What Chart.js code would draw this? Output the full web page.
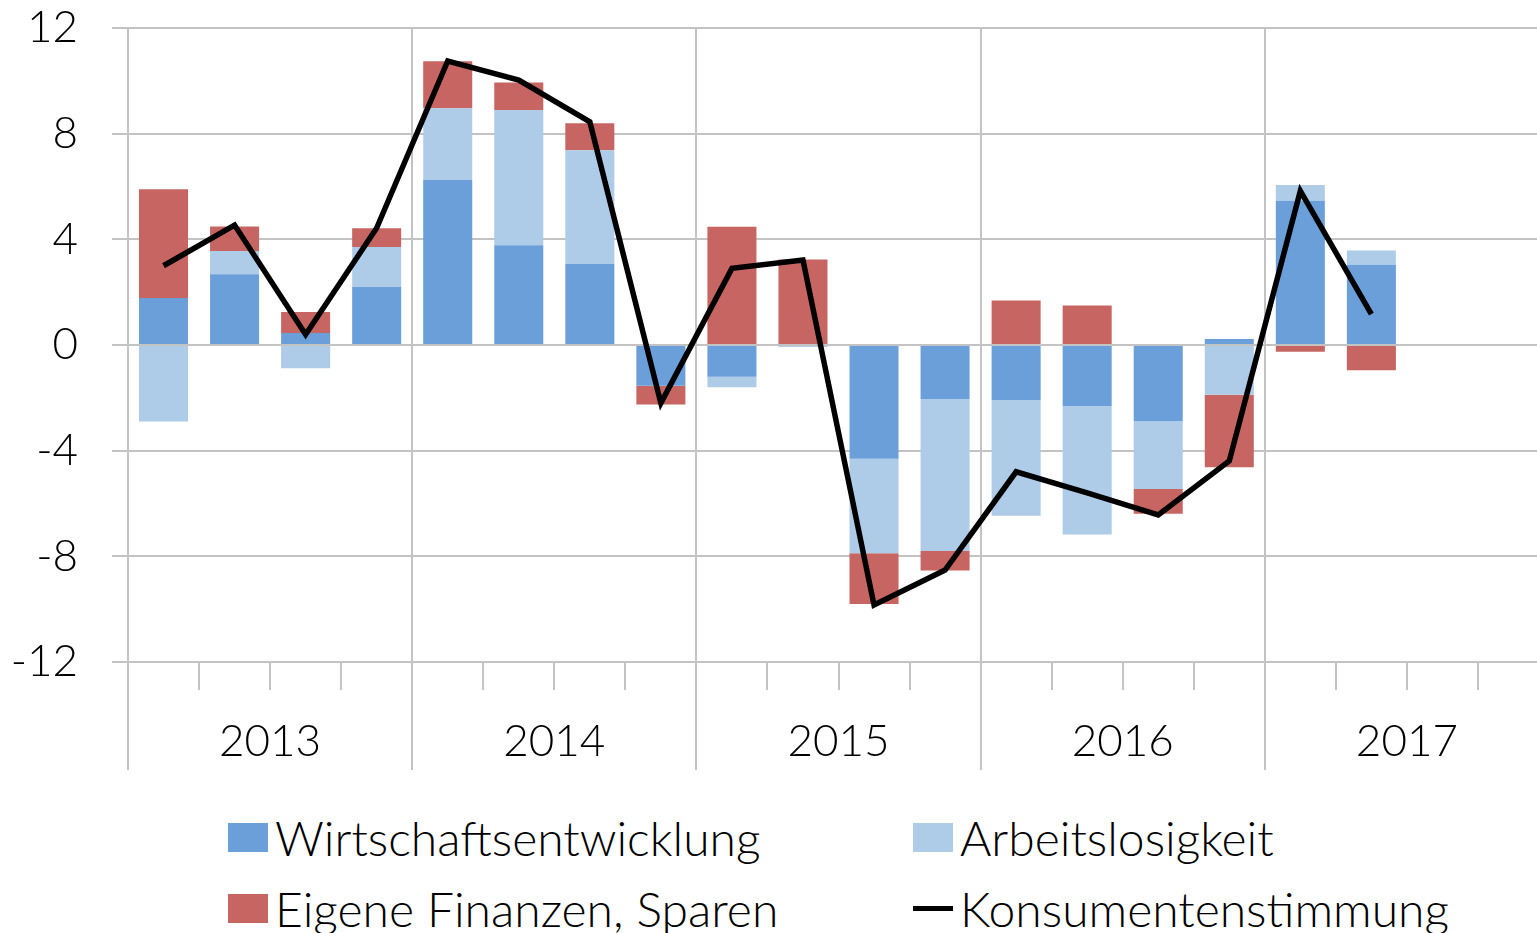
<!DOCTYPE html>
<html>
<head>
<meta charset="utf-8">
<title>Konsumentenstimmung</title>
<script src="https://cdn.jsdelivr.net/npm/chart.js"></script>
<style>
  html, body { margin: 0; padding: 0; background: #fff; overflow: hidden; width: 1537px; height: 933px; }
  #wrap { position: absolute; left: 0; top: 0; width: 1549px; height: 780px; }
  .item { position: absolute; display: flex; align-items: center; height: 60px;
          font: 300 48px Lato, "Open Sans", sans-serif; color: #000; white-space: nowrap; }
  .box { width: 40px; height: 29px; margin-right: 7px; }
  .line { width: 40px; height: 5px; background: #000; margin-right: 7px; }
</style>
</head>
<body>
<div id="wrap"><canvas id="chart"></canvas></div>
<div id="legend"></div>
<script>
// quarters 2013 Q1 .. 2017 Q4, data up to 2017 Q2
const quarters = [
  '2013 Q1', '2013 Q2', '2013 Q3', '2013 Q4',
  '2014 Q1', '2014 Q2', '2014 Q3', '2014 Q4',
  '2015 Q1', '2015 Q2', '2015 Q3', '2015 Q4',
  '2016 Q1', '2016 Q2', '2016 Q3', '2016 Q4',
  '2017 Q1', '2017 Q2', '2017 Q3', '2017 Q4'
];
const years = ['2013', '2014', '2015', '2016', '2017'];

const wirtschaft = [1.78, 2.68, 0.45, 2.2, 6.25, 3.78, 3.07, -1.54, -1.2, 0, -4.31, -2.04, -2.08, -2.31, -2.89, 0.23, 5.46, 3.04, null, null];
const arbeit     = [-2.9, 0.88, -0.88, 1.51, 2.71, 5.12, 4.3, 0, -0.4, -0.08, -3.57, -5.76, -4.38, -4.86, -2.56, -1.88, 0.6, 0.54, null, null];
const finanzen   = [4.12, 0.93, 0.8, 0.71, 1.78, 1.04, 1.02, -0.71, 4.48, 3.24, -1.92, -0.74, 1.68, 1.5, -0.94, -2.75, -0.26, -0.96, null, null];
const stimmung   = [3.0, 4.54, 0.4, 4.43, 10.75, 10.03, 8.45, -2.2, 2.9, 3.22, -9.84, -8.52, -4.8, -5.6, -6.43, -4.39, 5.83, 1.17, null, null];

const yMin = -12, yMax = 12, yStep = 4;

const COLORS = { wirtschaft: '#6a9fda', arbeit: '#aecbe8', finanzen: '#c66562', line: '#000000' };
const GRID = '#c3c3c3';
const FONT = { family: 'Lato, "Open Sans", sans-serif', size: 44, weight: 300 };

const barOpts = { barPercentage: 0.69, categoryPercentage: 1, order: 1, borderWidth: 0 };

new Chart(document.getElementById('chart'), {
  type: 'bar',
  data: {
    labels: quarters,
    datasets: [
      { label: 'Wirtschaftsentwicklung', data: wirtschaft, backgroundColor: COLORS.wirtschaft, ...barOpts },
      { label: 'Arbeitslosigkeit', data: arbeit, backgroundColor: COLORS.arbeit, ...barOpts },
      { label: 'Eigene Finanzen, Sparen', data: finanzen, backgroundColor: COLORS.finanzen, ...barOpts },
      { type: 'line', label: 'Konsumentenstimmung', data: stimmung, borderColor: COLORS.line,
        borderWidth: 5.5, pointRadius: 0, tension: 0, fill: false, order: 0, stack: 'line' }
    ]
  },
  options: {
    responsive: true,
    maintainAspectRatio: false,
    animation: false,
    layout: { padding: { top: 28, left: 0, right: 0, bottom: 10 } },
    plugins: { legend: { display: false }, tooltip: { enabled: false } },
    scales: {
      x: {
        stacked: true,
        grid: { offset: true, drawOnChartArea: false, drawTicks: true, tickLength: 28, color: GRID, lineWidth: 2 },
        border: { display: false },
        ticks: { display: false },
        afterFit(scale) { scale.height = 28; }
      },
      x2: {
        type: 'category',
        labels: years,
        position: 'bottom',
        offset: true,
        grid: { offset: true, drawOnChartArea: true, drawTicks: true, tickLength: 80, color: GRID, lineWidth: 2 },
        border: { display: false },
        ticks: { color: '#000', font: FONT, padding: -55, maxRotation: 0, autoSkip: false },
        afterFit(scale) { scale.height = 80; }
      },
      y: {
        stacked: true,
        min: yMin,
        max: yMax,
        grid: { color: GRID, lineWidth: 2, tickLength: 16 },
        border: { display: false },
        ticks: { stepSize: yStep, color: '#000', font: FONT, padding: 34 },
        afterFit(scale) {
          scale.width = 128;
          // the label padding should not push the plot down
          scale.paddingTop = 0;
          scale.paddingBottom = 0;
        }
      }
    }
  }
});

// legend: 2x2 grid like the original
const legendItems = [
  { text: 'Wirtschaftsentwicklung', color: COLORS.wirtschaft, kind: 'box', x: 228, y: 807 },
  { text: 'Arbeitslosigkeit', color: COLORS.arbeit, kind: 'box', x: 913, y: 807 },
  { text: 'Eigene Finanzen, Sparen', color: COLORS.finanzen, kind: 'box', x: 228, y: 878 },
  { text: 'Konsumentenstimmung', color: COLORS.line, kind: 'line', x: 913, y: 878 }
];
const legendEl = document.getElementById('legend');
legendItems.forEach(it => {
  const d = document.createElement('div');
  d.className = 'item';
  d.style.left = it.x + 'px';
  d.style.top = it.y + 'px';
  const sw = document.createElement('span');
  sw.className = it.kind;
  sw.style.background = it.color;
  d.appendChild(sw);
  const t = document.createElement('span');
  t.textContent = it.text;
  d.appendChild(t);
  legendEl.appendChild(d);
});
</script>
</body>
</html>
